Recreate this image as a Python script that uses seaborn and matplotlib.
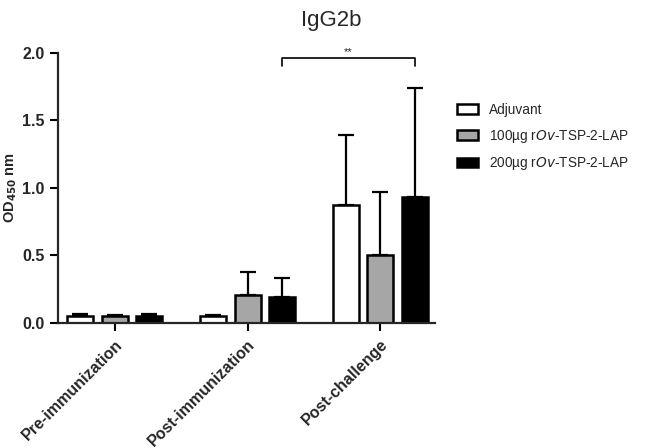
import matplotlib
matplotlib.use('Agg')
import matplotlib.pyplot as plt
import seaborn as sns
import pandas as pd
import numpy as np

# Data
stages = ['Pre-immunization', 'Post-immunization', 'Post-challenge']
groups = ['Adjuvant', '100µg r$\\it{Ov}$-TSP-2-LAP', '200µg r$\\it{Ov}$-TSP-2-LAP']
means = {
    groups[0]: [0.055, 0.05, 0.875],
    groups[1]: [0.05, 0.21, 0.50],
    groups[2]: [0.055, 0.19, 0.93],
}
errs = {
    groups[0]: [0.008, 0.008, 0.52],
    groups[1]: [0.008, 0.17, 0.47],
    groups[2]: [0.008, 0.145, 0.81],
}
colors = ['white', '#a6a6a6', 'black']

rows = []
for g in groups:
    for s, m in zip(stages, means[g]):
        rows.append({'Stage': s, 'Group': g, 'OD': m})
df = pd.DataFrame(rows)

sns.set_style('ticks')
plt.rcParams['font.family'] = ['Liberation Sans', 'DejaVu Sans']

fig = plt.figure(figsize=(6.49, 4.48), dpi=100)
ax = fig.add_axes([0.089, 0.279, 0.581, 0.603])

sns.barplot(data=df, x='Stage', y='OD', hue='Group', order=stages, hue_order=groups,
            palette=colors, edgecolor='black', linewidth=1.8, errorbar=None,
            width=0.78, gap=0.25, ax=ax)

# upward-only error bars
for cont, g in zip(ax.containers, groups):
    for bar, e in zip(cont.patches, errs[g]):
        xc = bar.get_x() + bar.get_width() / 2
        h = bar.get_height()
        ax.errorbar(xc, h, yerr=[[0], [e]], fmt='none', ecolor='black',
                    elinewidth=1.6, capsize=6, capthick=1.6)

# significance bracket between 200µg post-immunization and post-challenge
b1 = ax.containers[2].patches[1]
b2 = ax.containers[2].patches[2]
x1 = b1.get_x() + b1.get_width() / 2
x2 = b2.get_x() + b2.get_width() / 2
ax.plot([x1, x1, x2, x2], [1.90, 1.96, 1.96, 1.90], color='black', lw=1.2, clip_on=False)
ax.text((x1 + x2) / 2, 1.97, '**', ha='center', va='bottom', fontsize=8)

ax.set_ylim(0, 2.0)
ax.set_xlim(-0.43, 2.41)
ax.set_yticks([0, 0.5, 1.0, 1.5, 2.0])
ax.set_yticklabels(['0.0', '0.5', '1.0', '1.5', '2.0'], fontweight='bold', fontsize=11.5)
ax.set_xticks(range(len(stages)))
ax.set_xticklabels(stages, rotation=45, ha='right', rotation_mode='anchor',
                   fontweight='bold', fontsize=11.5)
ax.tick_params(axis='both', width=1.5, length=6, color='black')
ax.tick_params(axis='x', pad=4)
for sp in ['left', 'bottom']:
    ax.spines[sp].set_linewidth(1.6)
sns.despine(ax=ax)

ax.set_xlabel('')
ax.set_ylabel('OD$_{\\mathbf{450}}$ nm', fontweight='bold', fontsize=10.5, labelpad=2)
fig.text(0.51, 0.955, 'IgG2b', ha='center', va='center', fontsize=16)

ax.legend(loc='upper left', bbox_to_anchor=(1.025, 0.86), frameon=False, fontsize=9.8,
          handlelength=1.6, handleheight=0.7, labelspacing=0.78, handletextpad=0.8)

fig.savefig('out.png', dpi=100)
